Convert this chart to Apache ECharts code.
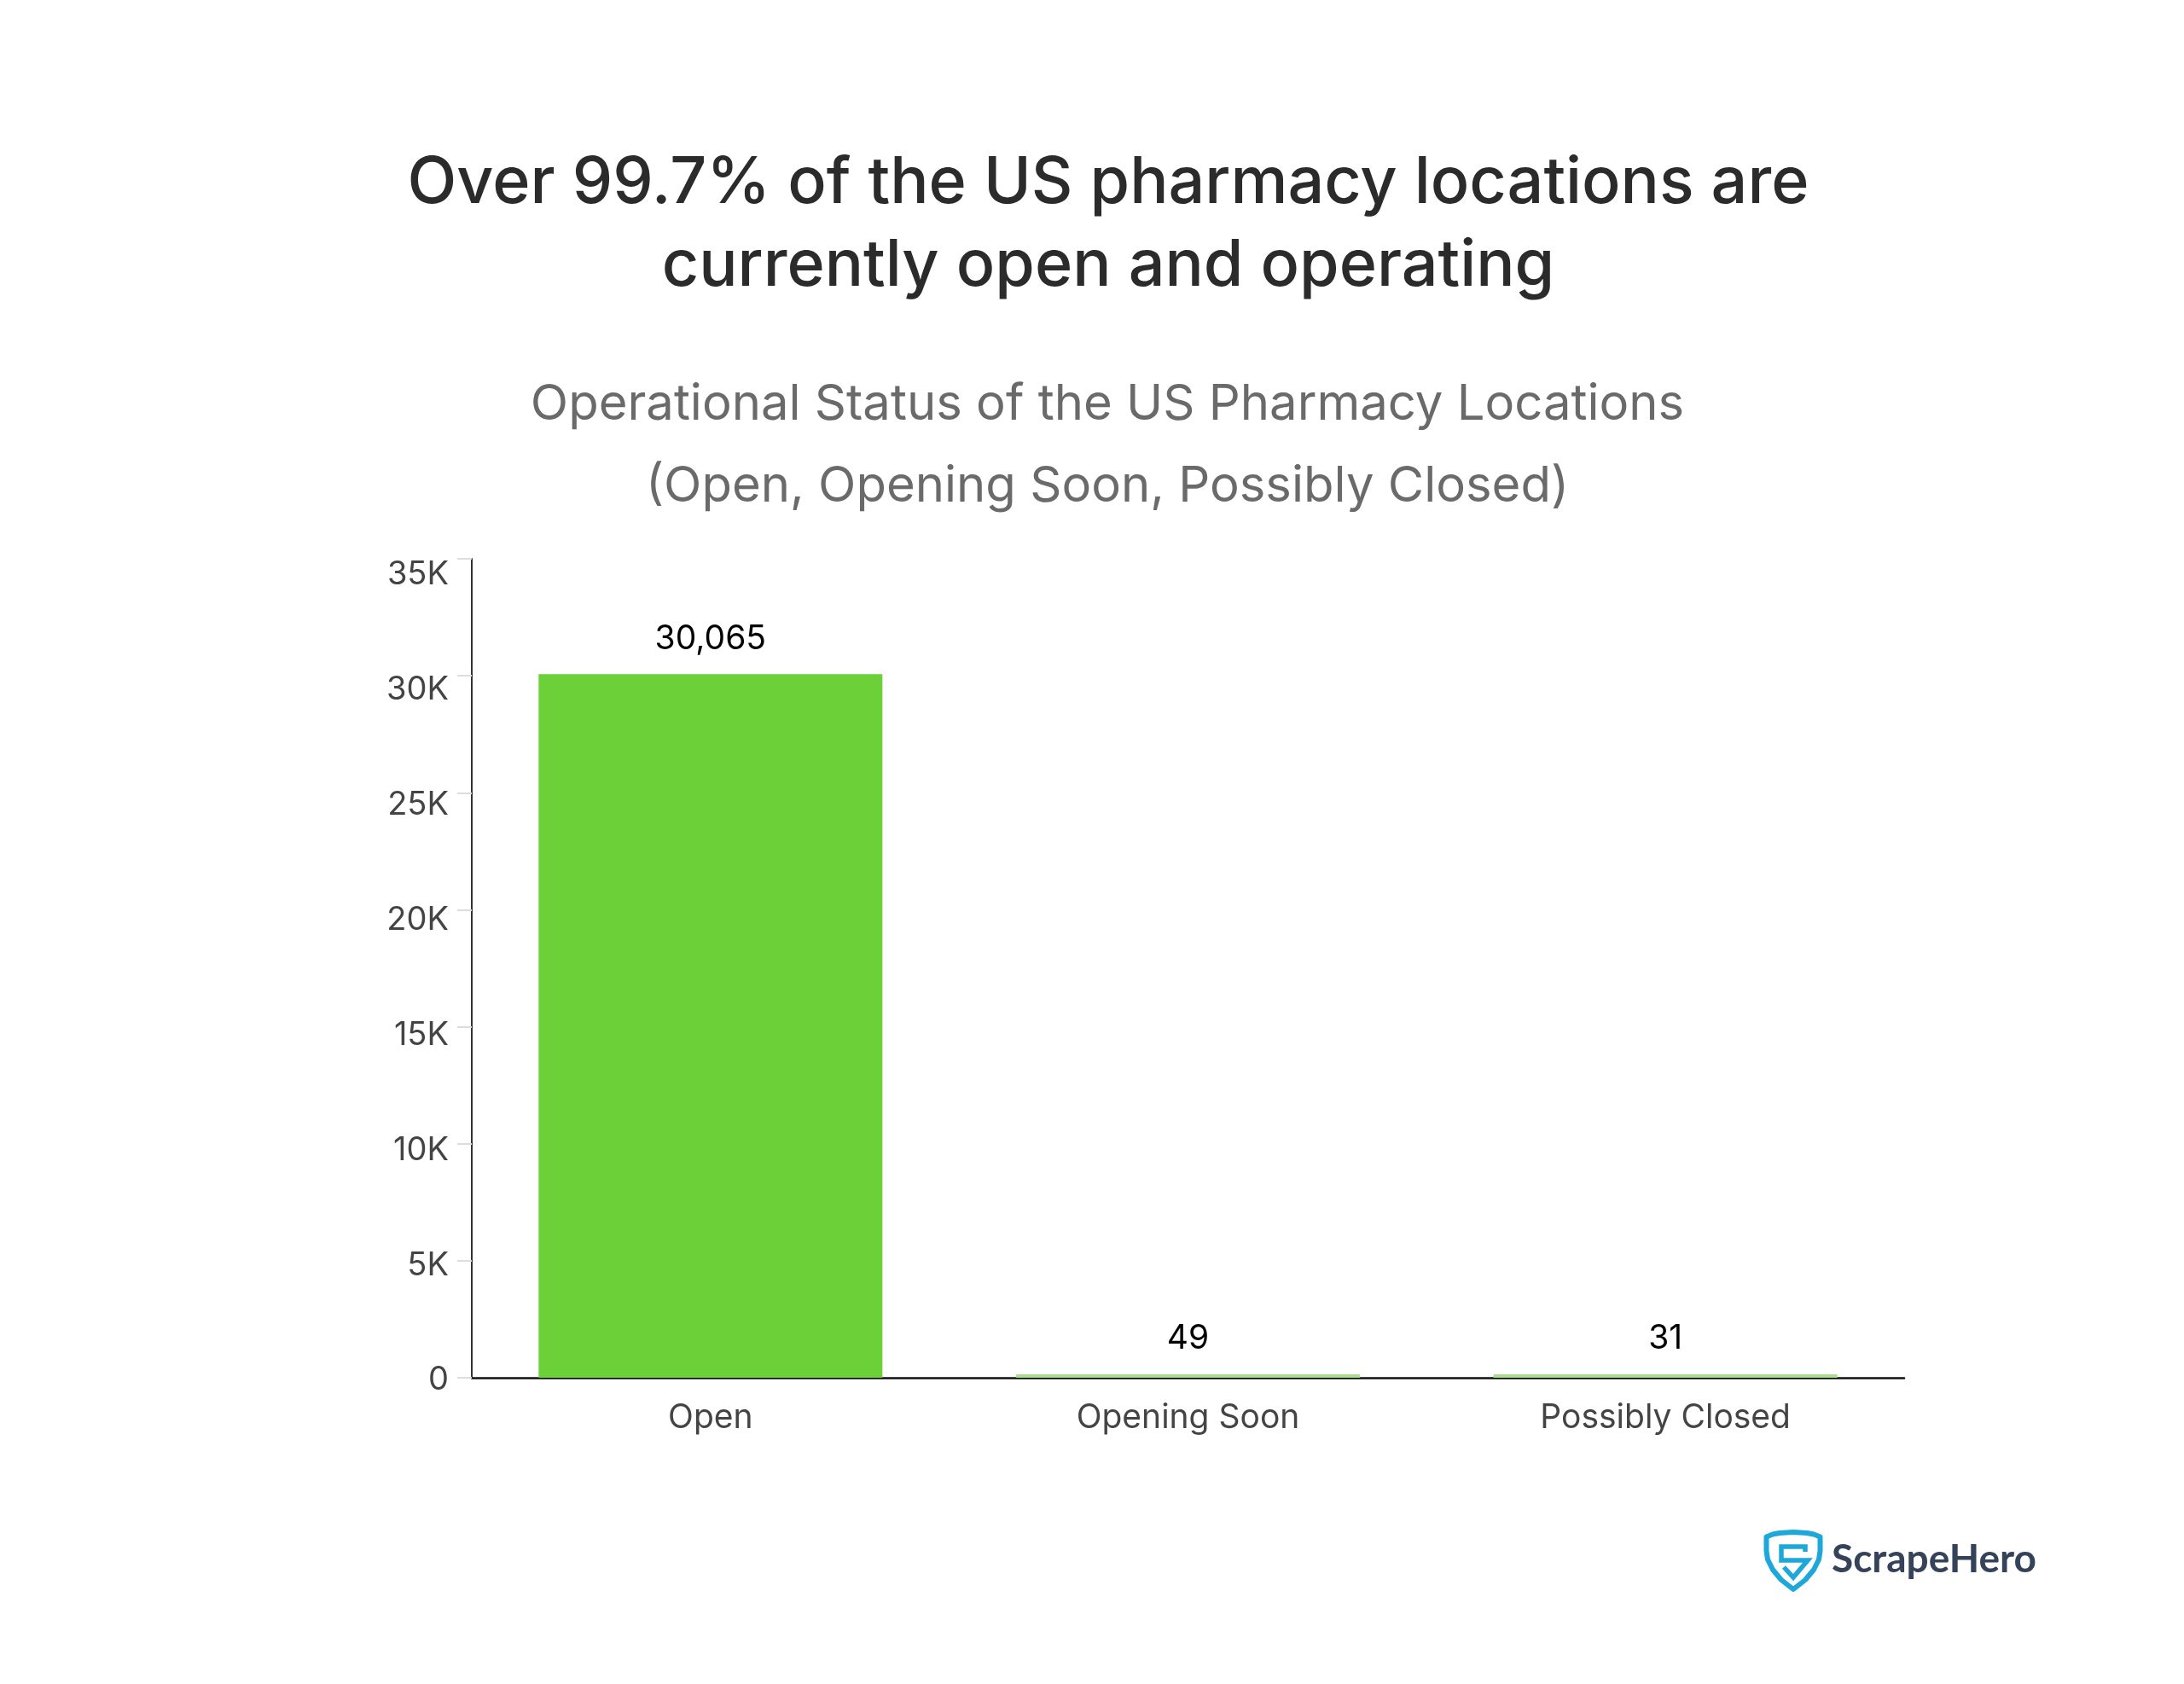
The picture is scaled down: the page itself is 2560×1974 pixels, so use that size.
<!DOCTYPE html>
<html>
<head>
<meta charset="utf-8">
<style>
  html, body { margin: 0; padding: 0; background: #fff; }
  #chart { width: 2560px; height: 1974px; }
</style>
<script src="https://cdn.jsdelivr.net/npm/echarts@6/dist/echarts.min.js"></script>
</head>
<body>
<div id="chart"></div>
<script>
const categories = ['Open', 'Opening Soon', 'Possibly Closed'];
const locations = [30065, 49, 31];
const yTickLabels = ['0', '5K', '10K', '15K', '20K', '25K', '30K', '35K'];
const titleLines = 'Over 99.7% of the US pharmacy locations are\ncurrently open and operating';
const subtitleLines = 'Operational Status of the US Pharmacy Locations\n(Open, Opening Soon, Possibly Closed)';

const FONT = 'Inter';
const yMax = 35000;
const yStep = 5000;

// logo outlines, in the 84px box of the shield
const shieldOutline = [[10.5, 13.5], [18, 10.5], [26, 9], [42, 8], [58, 9], [66, 10.5], [73.5, 13.5], [73.5, 30], [72, 40], [66, 52], [56, 64], [42, 75], [28, 64], [18, 52], [12, 40], [10.5, 30]];
const shieldLetter = [[56, 31], [56, 25], [28, 25], [28, 41], [59, 41], [42, 61], [31, 49]];

const chart = echarts.init(document.getElementById('chart'), null, { renderer: 'canvas' });

chart.setOption({
  backgroundColor: '#ffffff',
  animation: false,
  title: [
    {
      text: titleLines,
      left: 1294,
      top: 162,
      textAlign: 'center',
      textStyle: { fontFamily: FONT, fontSize: 75.4, fontWeight: 500, color: '#2b2b2b', lineHeight: 97 }
    },
    {
      text: subtitleLines,
      left: 1293,
      top: 422,
      textAlign: 'center',
      textStyle: { fontFamily: FONT, fontSize: 58, fontWeight: 400, color: '#6a6a6a', lineHeight: 96 }
    }
  ],
  // grid 0 holds the bars, grid 1 only carries the y labels (they sit on a tighter spacing than the ticks)
  grid: [
    { left: 553, right: 328, top: 655, bottom: 359 },
    { left: 553, right: 328, top: 674, bottom: 356 }
  ],
  xAxis: [
    {
      type: 'category',
      gridIndex: 0,
      data: categories,
      axisLine: { lineStyle: { color: '#111111', width: 2.5 } },
      axisTick: { show: false },
      axisLabel: { margin: 28, fontFamily: FONT, fontSize: 39, color: '#444444' }
    },
    { type: 'category', gridIndex: 1, data: categories, show: false }
  ],
  yAxis: [
    {
      type: 'value',
      gridIndex: 0,
      min: 0,
      max: yMax,
      interval: yStep,
      splitLine: { show: false },
      axisLine: { show: true, lineStyle: { color: '#333333', width: 2 } },
      axisTick: { show: true, length: 17, lineStyle: { color: '#dddddd', width: 2 } },
      axisLabel: { show: false }
    },
    {
      type: 'value',
      gridIndex: 1,
      min: 0,
      max: yMax,
      interval: yStep,
      splitLine: { show: false },
      axisLine: { show: false },
      axisTick: { show: false },
      axisLabel: {
        margin: 27,
        fontFamily: FONT,
        fontSize: 38,
        color: '#444444',
        formatter: (v) => yTickLabels[v / yStep]
      }
    }
  ],
  series: [
    {
      type: 'bar',
      xAxisIndex: 0,
      yAxisIndex: 0,
      data: locations,
      barWidth: 403,
      barMinHeight: 4,
      itemStyle: { color: (p) => (p.value < 100 ? '#a9df8c' : '#6cd038') },
      label: {
        show: true,
        position: 'top',
        distance: 22,
        fontFamily: FONT,
        fontSize: 39,
        color: '#000000',
        formatter: (p) => p.value.toLocaleString('en-US')
      }
    }
  ],
  graphic: [
    // ScrapeHero logo
    {
      type: 'group',
      x: 2060,
      y: 1788,
      children: [
        {
          type: 'polygon',
          shape: { points: shieldOutline },
          style: { fill: 'none', stroke: '#1ea7d9', lineWidth: 6, lineJoin: 'round' }
        },
        {
          type: 'polyline',
          shape: { points: shieldLetter },
          style: { fill: 'none', stroke: '#1ea7d9', lineWidth: 5.5, lineJoin: 'miter' }
        }
      ]
    },
    {
      type: 'text',
      x: 2147,
      y: 1805,
      style: { text: 'ScrapeHero', fontFamily: 'Lato', fontSize: 46, fontWeight: 700, fill: '#34435a' }
    }
  ]
});
</script>
</body>
</html>
